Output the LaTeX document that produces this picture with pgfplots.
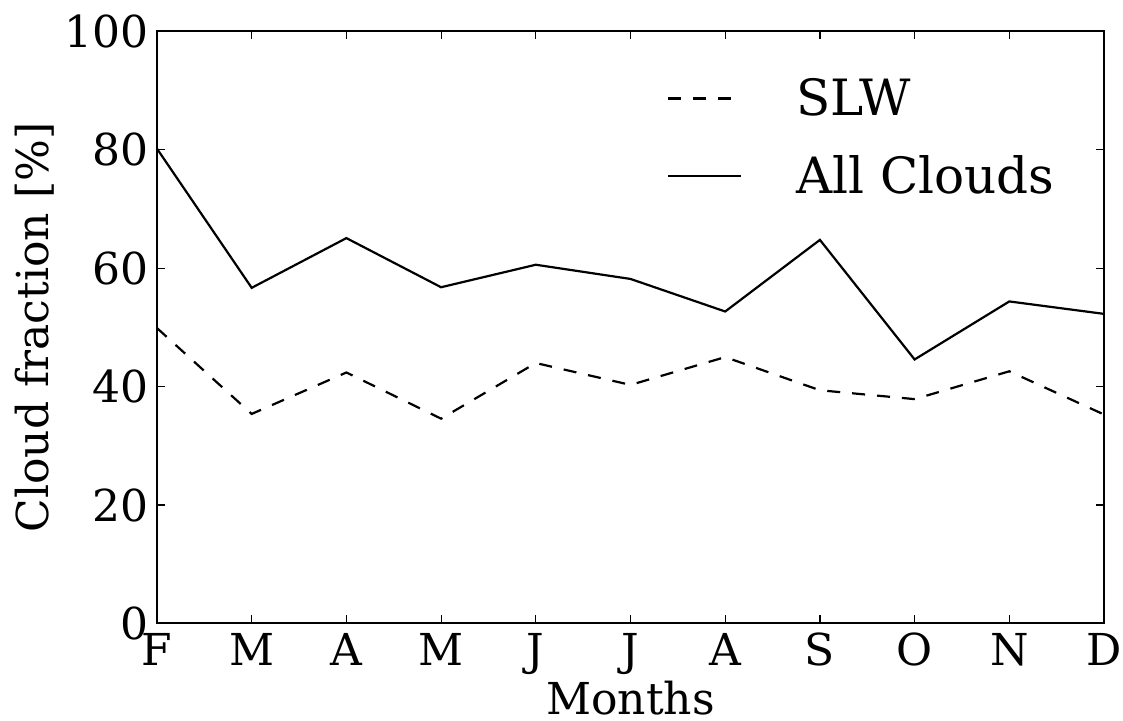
\documentclass[border=0pt]{standalone}
\usepackage{fontspec}
\setmainfont{DejaVu Serif}
\usepackage{pgfplots}
\pgfplotsset{compat=1.18}
\begin{document}
\begin{tikzpicture}
\useasboundingbox (-78.5pt,-48.5pt) rectangle (483pt,311.75pt);
\begin{axis}[
  at={(0,0)}, anchor=south west,
  scale only axis, width=473.5pt, height=296pt,
  xmin=0, xmax=10, ymin=0, ymax=100,
  xtick={0,1,2,3,4,5,6,7,8,9,10},
  xticklabels={F,M,A,M,J,J,A,S,O,N,D},
  ytick={0,20,40,60,80,100},
  /pgf/number format/assume math mode=true,
  axis line style={line width=1pt},
  tick align=inside,
  major tick length=4pt,
  every tick/.style={black, line width=0.6pt},
  tick label style={font=\fontsize{22}{26}\selectfont},
  yticklabel style={anchor=east, inner sep=0pt, xshift=-4pt},
  xticklabel style={anchor=north, inner sep=0pt, yshift=-5pt, text height=16pt, text depth=0pt},
  label style={font=\fontsize{22}{26}\selectfont},
  xlabel={Months},
  xlabel style={at={(axis description cs:0.5,0)}, anchor=base, yshift=-45.5pt, inner sep=0pt},
  ylabel={Cloud fraction [\%]},
  ylabel style={at={(axis description cs:-0.129,0.5)}, anchor=center, rotate=0, inner sep=0pt},
  legend cell align=left,
  legend style={draw=none, fill=none, at={(axis description cs:0.5385,0.9206)}, anchor=north west,
    inner sep=0pt, outer sep=0pt, font=\fontsize{25}{30}\selectfont,
    row sep=18.5pt, column sep=27pt, nodes={inner sep=0pt}},
  legend image code/.code={\draw[#1] (0pt,0pt) -- (36.5pt,0pt);},
]
\addplot[black, line width=1.1pt, dash pattern=on 6.5pt off 6pt] coordinates {
(0,49.9) (1,35.4) (2,42.4) (3,34.6) (4,44.0) (5,40.3) (6,45.0) (7,39.4) (8,37.9) (9,42.6) (10,35.3)};
\addlegendentry{SLW}
\addplot[black, line width=1.1pt] coordinates {
(0,80.2) (1,56.7) (2,65.1) (3,56.8) (4,60.6) (5,58.2) (6,52.7) (7,64.8) (8,44.6) (9,54.4) (10,52.3)};
\addlegendentry{All Clouds}
\end{axis}
\end{tikzpicture}
\end{document}
